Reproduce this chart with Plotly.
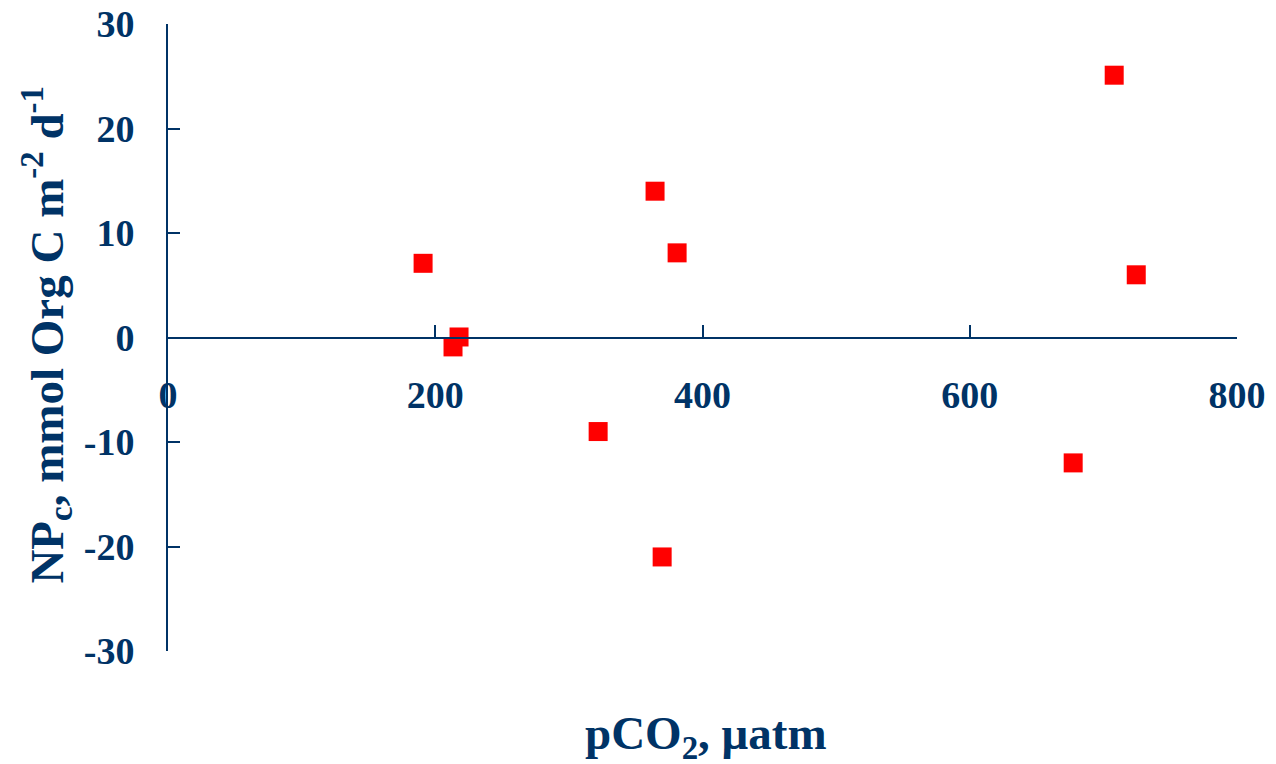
import plotly.graph_objects as go

# Data
pco2 = [190.9, 213.3, 217.8, 321.9, 364.5, 381.0, 369.8, 677.4, 708.1, 724.6]
npc = [7.1, -0.9, 0.05, -9.0, 14.0, 8.1, -21.0, -12.0, 25.1, 6.0]

x_ticks = [0, 200, 400, 600, 800]
y_ticks = [-30, -20, -10, 0, 10, 20, 30]

NAVY = "#003366"
FONT = "Liberation Serif"

fig = go.Figure()
fig.add_trace(go.Scatter(
    x=pco2, y=npc, mode="markers",
    marker=dict(symbol="square", size=19, color="#FF0000", line=dict(width=0)),
    showlegend=False, hoverinfo="x+y",
))

fig.update_layout(
    width=1276, height=764,
    margin=dict(l=168, r=39, t=24, b=113),
    paper_bgcolor="white", plot_bgcolor="white",
    font=dict(family=FONT, color=NAVY, size=38, weight="bold"),
    xaxis=dict(
        range=[0, 800], tickvals=x_ticks, ticktext=[str(v) for v in x_ticks],
        anchor="free", position=0.5, automargin=False,
        showline=True, linecolor=NAVY, linewidth=2,
        ticks="inside", ticklen=12, tickwidth=2, tickcolor=NAVY,
        ticklabelstandoff=24,
        showgrid=False, zeroline=False,
        tickfont=dict(family=FONT, color=NAVY, size=38, weight="bold"),
    ),
    yaxis=dict(
        range=[-30, 30], tickvals=y_ticks, ticktext=[str(v) for v in y_ticks],
        automargin=False,
        showline=True, linecolor=NAVY, linewidth=2,
        ticks="inside", ticklen=12, tickwidth=2, tickcolor=NAVY,
        ticklabelstandoff=24,
        showgrid=False, zeroline=False,
        tickfont=dict(family=FONT, color=NAVY, size=38, weight="bold"),
    ),
    annotations=[
        dict(text="pCO<sub>2</sub>, \u03bcatm", xref="paper", yref="paper",
             x=0.503, y=-0.137, xanchor="center", yanchor="middle", showarrow=False,
             font=dict(family=FONT, color=NAVY, size=47, weight="bold")),
        dict(text="NP<sub>c</sub>, mmol Org C m<sup>-2</sup> d<sup>-1</sup>",
             xref="paper", yref="paper", x=-0.113, y=0.505, textangle=-90,
             xanchor="center", yanchor="middle", showarrow=False,
             font=dict(family=FONT, color=NAVY, size=47, weight="bold")),
    ],
)

fig.write_html("out.html")
